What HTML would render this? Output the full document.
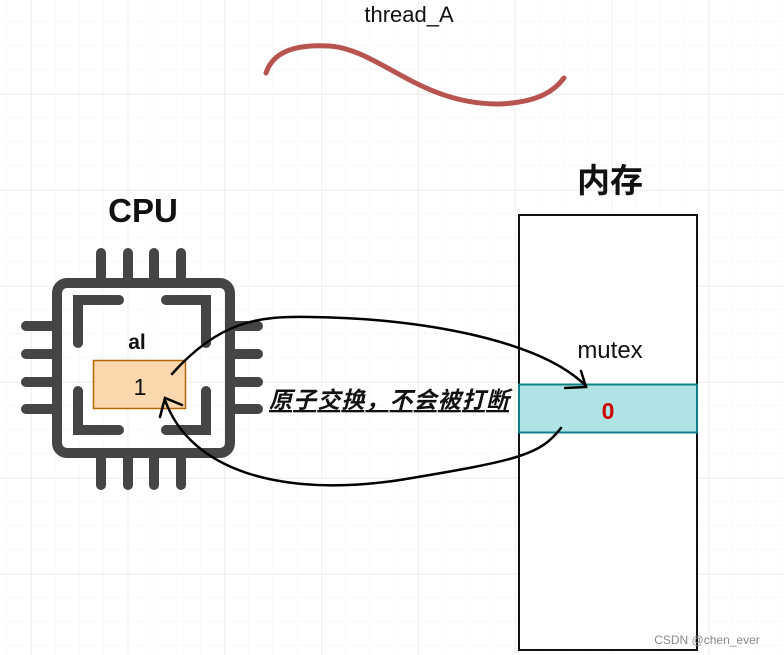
<!DOCTYPE html>
<html><head><meta charset="utf-8"><style>
html,body{margin:0;padding:0;background:#fff;}
svg{display:block;}
</style></head><body>
<svg width="784" height="655" viewBox="0 0 784 655" xmlns="http://www.w3.org/2000/svg">
<defs>
<pattern id="g" width="24.2" height="24" patternUnits="userSpaceOnUse" x="7" y="-2">
<path d="M24.2 0V24M0 24H24.2" stroke="#f5f5f5" stroke-width="1" fill="none"/>
</pattern>
<pattern id="G" width="96.8" height="96" patternUnits="userSpaceOnUse" x="31" y="-2">
<path d="M0 0V96M0 0H96.8" stroke="#e6e6e6" stroke-width="1" fill="none"/>
</pattern>
</defs>
<rect width="784" height="655" fill="url(#g)"/>
<rect width="784" height="655" fill="url(#G)"/>
<text x="409" y="22" font-family="Liberation Sans, sans-serif" font-size="22" text-anchor="middle" fill="#111">thread_A</text>
<path d="M266 73 C275 45,310 45,330 46 C380 50,420 105,500 104 C540 102,555 90,564 78" stroke="#b85450" stroke-width="5" fill="none" stroke-linecap="round"/>
<text x="143" y="222" font-family="Liberation Sans, sans-serif" font-size="33" font-weight="bold" text-anchor="middle" fill="#111">CPU</text>
<text x="610" y="192" font-family="Liberation Sans, 'Noto Sans CJK SC', sans-serif" font-size="33" font-weight="bold" text-anchor="middle" fill="#111">内存</text>
<g stroke="#454545" stroke-width="10" stroke-linecap="round" fill="none">
<rect x="57" y="283" width="173" height="170" rx="10"/>
<path d="M101 253V283M128 253V283M154 253V283M181 253V283"/>
<path d="M101 453V485M128 453V485M154 453V485M181 453V485"/>
<path d="M26 326H57M26 354H57M26 382H57M26 409H57"/>
<path d="M230 326H258M230 354H258M230 382H258M230 409H258"/>
<path d="M78 343V300H119M166 300H206V343M78 391V430H119M166 430H206V391"/>
</g>
<rect x="93.5" y="360.5" width="92" height="48" fill="#fad7ac" stroke="#b46504" stroke-width="1.5"/>
<text x="137" y="349" font-family="Liberation Sans, sans-serif" font-size="21" font-weight="bold" text-anchor="middle" fill="#111">al</text>
<text x="140" y="395" font-family="Liberation Sans, sans-serif" font-size="23" text-anchor="middle" fill="#111">1</text>
<rect x="519" y="215" width="178" height="435" fill="#fff" stroke="#111" stroke-width="2"/>
<rect x="519" y="384.5" width="178" height="48" fill="#b0e3e6" stroke="#0e8088" stroke-width="2"/>
<text x="610" y="358" font-family="Liberation Sans, sans-serif" font-size="24" text-anchor="middle" fill="#111">mutex</text>
<text x="608" y="419" font-family="Liberation Sans, sans-serif" font-size="23" font-weight="bold" text-anchor="middle" fill="#cc0000">0</text>
<g stroke="#000" stroke-width="2.5" fill="none" stroke-linecap="round">
<path d="M172 374 C220 320,260 316,310 317 C420 318,540 340,586 386"/>
<path d="M565 388L586 387L581 371"/>
<path d="M561 428 C540 455,520 460,400 480 C280 498,190 470,165 400"/>
<path d="M160 417L165 398L182 405"/>
</g>
<text x="389" y="408" font-family="Liberation Sans, 'Noto Sans CJK SC', sans-serif" font-size="23" font-weight="bold" font-style="italic" text-anchor="middle" fill="#111" text-decoration="underline" textLength="240">原子交换，不会被打断</text>
<text x="707" y="644" font-family="Liberation Sans, sans-serif" font-size="12" text-anchor="middle" fill="#888">CSDN @chen_ever</text>
</svg>
</body></html>
